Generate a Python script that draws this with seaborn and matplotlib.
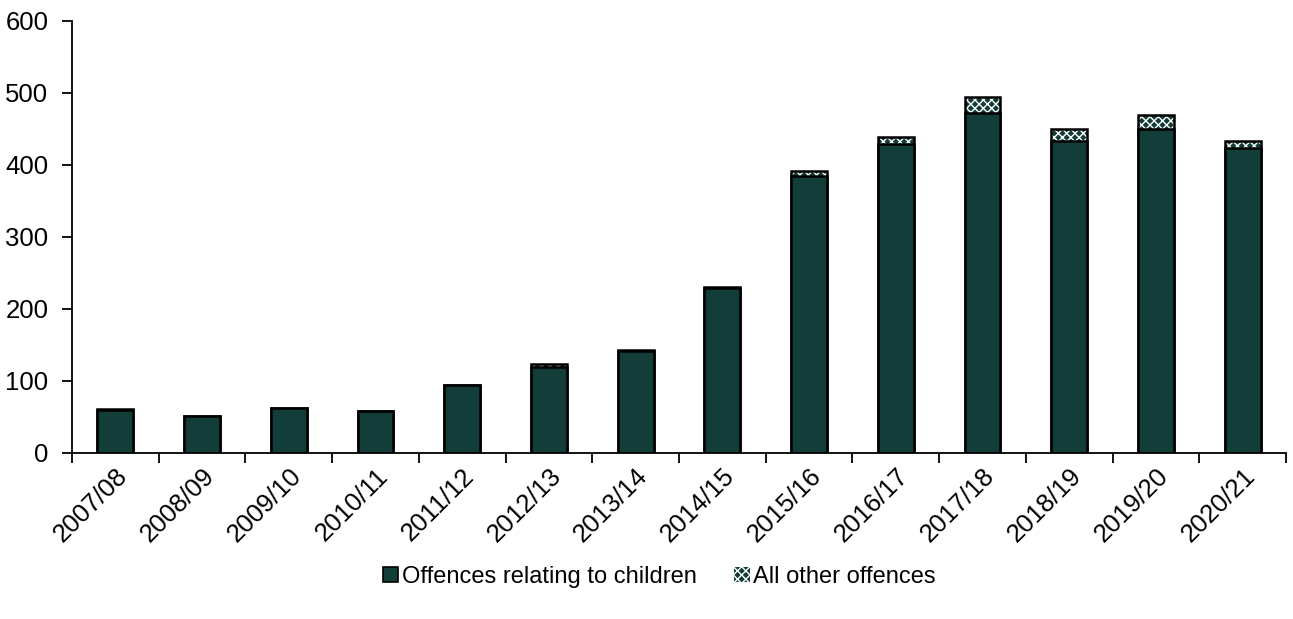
import matplotlib
matplotlib.use("Agg")
import matplotlib.pyplot as plt
import seaborn as sns
import pandas as pd
import numpy as np
from matplotlib.patches import Patch

years = ["2007/08", "2008/09", "2009/10", "2010/11", "2011/12", "2012/13", "2013/14",
         "2014/15", "2015/16", "2016/17", "2017/18", "2018/19", "2019/20", "2020/21"]
children = [60, 52, 62, 58, 94, 119, 142, 229, 385, 429, 472, 434, 450, 424]
other = [1, 0, 1, 1, 1, 5, 1, 2, 6, 10, 22, 16, 19, 10]

df = pd.DataFrame({"year": years, "children": children, "other": other})
df["total"] = df["children"] + df["other"]

sns.set_style("white")
plt.rcParams["font.family"] = ["Liberation Sans", "DejaVu Sans"]
plt.rcParams["hatch.linewidth"] = 1.0
plt.rcParams["text.color"] = "black"
plt.rcParams["xtick.color"] = "black"
plt.rcParams["ytick.color"] = "black"

GREEN = "#123d38"
W = 0.415
FS = 18.5

fig = plt.figure(figsize=(12.93, 6.19), dpi=100)
ax = fig.add_axes([72 / 1293, 1 - 453 / 619, (1286 - 72) / 1293, (453 - 21) / 619])

# total bars (hatched part shows as "All other offences")
sns.barplot(data=df, x="year", y="total", color=GREEN, width=W, ax=ax,
            edgecolor="white", linewidth=0, hatch="xxxx", saturation=1, errorbar=None)
sns.barplot(data=df, x="year", y="total", fill=False, width=W, ax=ax,
            edgecolor="black", linewidth=1.8, errorbar=None)
# children bars on top
sns.barplot(data=df, x="year", y="children", color=GREEN, width=W, ax=ax,
            edgecolor="black", linewidth=1.8, saturation=1, errorbar=None)

ax.set_xlim(-0.5, len(years) - 0.5)
ax.set_ylim(0, 600)
ax.set_yticks(np.arange(0, 601, 100))
ax.set_xlabel("")
ax.set_ylabel("")

for s in ["top", "right"]:
    ax.spines[s].set_visible(False)
for s in ["left", "bottom"]:
    ax.spines[s].set_color("black")
    ax.spines[s].set_linewidth(1.3)

ax.tick_params(axis="y", which="major", length=7, width=1.3, color="black",
               labelsize=FS, labelcolor="black", pad=10, direction="out", left=True)
ax.set_xticks(np.arange(len(years)))
ax.set_xticklabels(years, rotation=45, ha="right", rotation_mode="anchor", fontsize=FS,
                   color="black")
ax.tick_params(axis="x", which="major", length=0, pad=8, bottom=True)
ax.set_xticks(np.arange(-0.5, len(years), 1), minor=True)
ax.tick_params(axis="x", which="minor", length=7, width=1.3, color="black",
               direction="out", bottom=True)

handles = [
    Patch(facecolor=GREEN, edgecolor="black", linewidth=1.2, label="Offences relating to children"),
    Patch(facecolor=GREEN, edgecolor="white", hatch="xxxx", linewidth=0, label="All other offences"),
]
fig.legend(handles=handles, loc="center", bbox_to_anchor=(0.51, 0.068), ncol=2,
           frameon=False, fontsize=17, handlelength=0.65, handleheight=0.65,
           handletextpad=0.15, columnspacing=1.6, labelcolor="black")

fig.savefig("out.png", dpi=100)
